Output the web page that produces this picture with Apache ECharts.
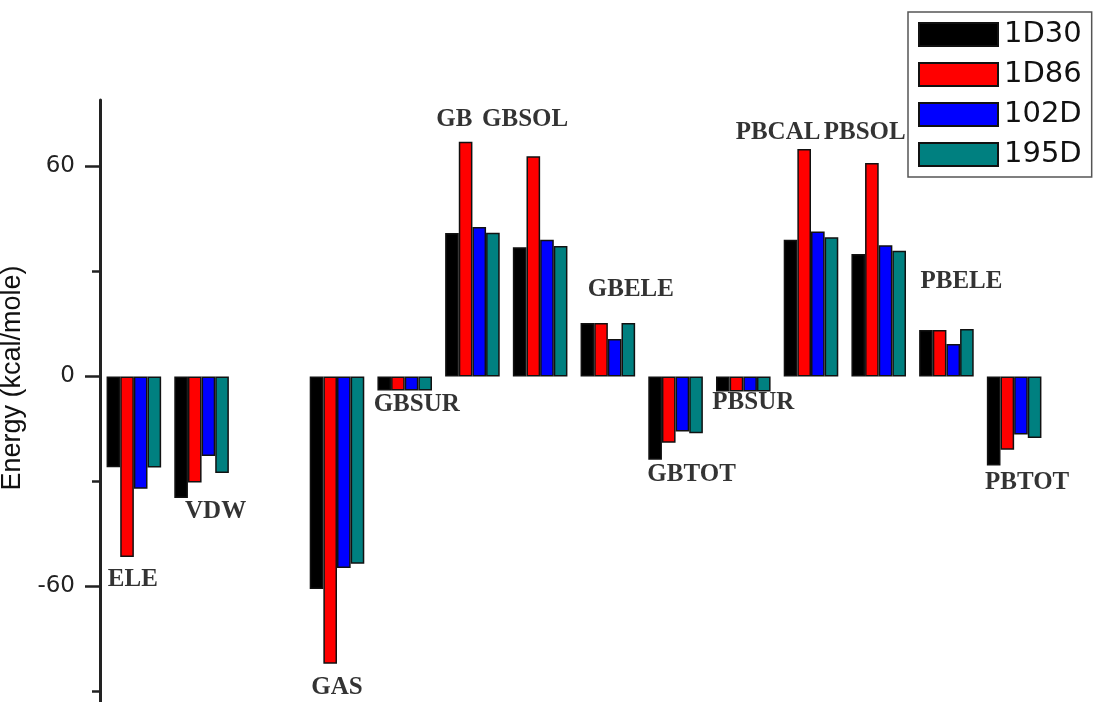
<!DOCTYPE html>
<html>
<head>
<meta charset="utf-8">
<script src="https://cdn.jsdelivr.net/npm/echarts@6/dist/echarts.min.js"></script>
<style>html,body{margin:0;padding:0;background:#fff}#c{width:1097px;height:702px}</style>
</head>
<body>
<div id="c"></div>
<script>
// categories (slot 2 is an empty gap in the original figure)
const categories = ['ELE', 'VDW', ' ', 'GAS', 'GBSUR', 'GB', 'GBSOL', 'GBELE', 'GBTOT', 'PBSUR', 'PBCAL', 'PBSOL', 'PBELE', 'PBTOT'];
const seriesNames = ['1D30', '1D86', '102D', '195D'];
const v1D30 = [-25.9, -34.7, null, -60.7, -4.0, 41.0, 36.9, 15.3, -23.8, -4.3, 39.1, 35.0, 13.3, -25.4];
const v1D86 = [-51.6, -30.3, null, -82.1, -4.0, 67.1, 62.9, 15.3, -18.9, -4.3, 65.0, 61.0, 13.3, -20.9];
const v102D = [-32.1, -22.7, null, -54.7, -4.0, 42.7, 39.1, 10.7, -15.7, -4.3, 41.4, 37.5, 9.3, -16.6];
const v195D = [-26.0, -27.6, null, -53.5, -4.0, 41.1, 37.3, 15.3, -16.2, -4.3, 39.8, 35.9, 13.6, -17.6];
const yTickLabels = [-60, 0, 60];
const yMinorTicks = [-90, -30, 30];
// annotation text for each category and the energy value where it sits
const labelText = ['ELE', 'VDW', '', 'GAS', 'GBSUR', 'GB', 'GBSOL', 'GBELE', 'GBTOT', 'PBSUR', 'PBCAL', 'PBSOL', 'PBELE', 'PBTOT'];
const labelAnchor = [-58.1, -38.7, null, -88.9, -7.9, 73.3, 73.3, 24.8, -28.1, -7.5, 69.6, 69.6, 27.1, -30.4];
// horizontal shift of each annotation from its group centre (style, px)
const labelShift = [-1, 14, 0, 0, 12, -18, -15, 23, 16, 10, -33, -14, 15, 13];

const colors = ['#000000', '#ff0000', '#0000ff', '#008080'];
const values = [v1D30, v1D86, v102D, v195D];

const chart = echarts.init(document.getElementById('c'), null, {renderer: 'canvas'});

const barSeries = seriesNames.map((n, i) => ({
  name: n, type: 'bar', data: values[i], barGap: '0%', barCategoryGap: '19.4%',
  itemStyle: {color: colors[i], borderColor: '#111', borderWidth: 1.5},
  emphasis: {disabled: true}, animation: false
}));

const labelSeries = {
  type: 'scatter', symbolSize: 0, silent: true, animation: false,
  data: categories.map((c, i) => labelAnchor[i] == null ? null : {
    value: [c, labelAnchor[i]],
    label: {show: true, position: 'inside', offset: [labelShift[i], 0], formatter: labelText[i],
      fontFamily: 'Liberation Serif', fontWeight: 'bold', fontSize: 25, color: '#000', textBorderWidth: 0}
  }).filter(d => d)
};

chart.setOption({
  backgroundColor: '#fff', animation: false,
  grid: {left: 100, right: 49, top: 100, bottom: 0, containLabel: false, outerBoundsMode: 'none'},
  legend: {
    data: seriesNames, orient: 'vertical', left: 908, top: 12, padding: [8, 10, 8, 10],
    itemWidth: 79, itemHeight: 23, itemGap: 11, icon: 'rect', borderColor: '#555', borderWidth: 1.5,
    backgroundColor: '#fff',
    textStyle: {fontFamily: 'DejaVu Sans', fontSize: 29, color: '#111', padding: [0, 0, 0, 1]}
  },
  xAxis: {type: 'category', data: categories, axisLine: {show: false}, axisTick: {show: false}, axisLabel: {show: false}, splitLine: {show: false}},
  yAxis: [{
    type: 'value', min: -93, max: 79,
    name: 'Energy (kcal/mole)', nameLocation: 'middle', nameGap: 73, nameRotate: 90,
    nameTextStyle: {fontFamily: 'Liberation Sans', fontSize: 27, color: '#111', padding: [0, 0, 0, 46]},
    axisLine: {show: true, lineStyle: {color: '#222', width: 3}},
    axisTick: {show: true, inside: false, length: 8, lineStyle: {color: '#222', width: 2.5}, customValues: yMinorTicks},
    axisLabel: {show: true, margin: 25, fontFamily: 'DejaVu Sans', fontSize: 23, color: '#222', customValues: yTickLabels},
    splitLine: {show: false}
  }, {
    type: 'value', min: -93, max: 79, position: 'left', offset: 0,
    axisLine: {show: false},
    axisTick: {show: true, inside: false, length: 15, lineStyle: {color: '#222', width: 2.5}, customValues: yTickLabels},
    axisLabel: {show: false}, splitLine: {show: false}
  }],
  series: barSeries.concat([labelSeries])
});
</script>
</body>
</html>
